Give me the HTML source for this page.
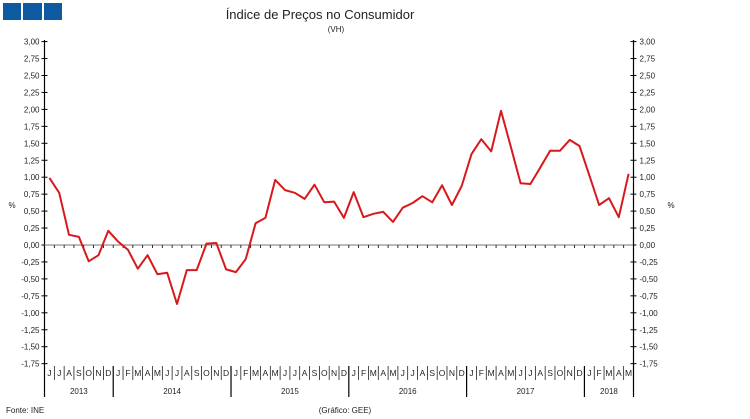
<!DOCTYPE html>
<html><head><meta charset="utf-8"><style>
html,body{margin:0;padding:0;background:#fff;}
svg{display:block;font-family:"Liberation Sans",Arial,sans-serif;}
</style></head><body>
<svg width="750" height="419" viewBox="0 0 750 419" xmlns="http://www.w3.org/2000/svg">
<rect x="3" y="3" width="18" height="17" fill="#0e5aa0"/>
<rect x="23" y="3" width="19" height="17" fill="#0e5aa0"/>
<rect x="44" y="3" width="18" height="17" fill="#0e5aa0"/>
<text x="320" y="19" font-size="13" text-anchor="middle" fill="#222">Índice de Preços no Consumidor</text>
<text x="336" y="32" font-size="8" text-anchor="middle" fill="#222">(VH)</text>
<text x="12" y="208" font-size="8" text-anchor="middle" fill="#222">%</text>
<text x="671" y="208" font-size="8" text-anchor="middle" fill="#222">%</text>
<text x="6" y="413" font-size="8" fill="#222">Fonte: INE</text>
<text x="345" y="413" font-size="8" text-anchor="middle" fill="#222">(Gráfico: GEE)</text>
<g id="ax" stroke="#000" stroke-width="1.2"></g>
<g id="lb" font-size="8" fill="#222"></g>
<line x1="44" y1="245" x2="633" y2="245" stroke="#777" stroke-width="1"/>
<g id="zt" stroke="#000" stroke-width="0.8"></g>
<polyline id="pl" fill="none" stroke="#d7191c" stroke-width="2" stroke-linejoin="round"/>
</svg>
<script>
var NS="http://www.w3.org/2000/svg";
function el(p,t,a,txt){var e=document.createElementNS(NS,t);for(var k in a)e.setAttribute(k,a[k]);if(txt!=null)e.textContent=txt;document.getElementById(p).appendChild(e);}
var L=44.5,R=633.5,y0=245,s=67.8;
el('ax','line',{x1:L,y1:40,x2:L,y2:397});
el('ax','line',{x1:R,y1:40,x2:R,y2:397});
for(var i=0;i<20;i++){var v=3-i*0.25,y=y0-v*s;var t=v.toFixed(2).replace('.',',');
el('ax','line',{x1:L-3,y1:y,x2:L+3,y2:y,'stroke-width':1});
el('ax','line',{x1:R-3,y1:y,x2:R+3,y2:y,'stroke-width':1});
el('lb','text',{x:L-5,y:y+3,'text-anchor':'end'},t);
el('lb','text',{x:R+6,y:y+3},t);}
var m="JJASONDJFMAMJJASONDJFMAMJJASONDJFMAMJJASONDJFMAMJJASONDJFMAM";
var dx=(R-L)/60;
for(var i=0;i<60;i++){var xc=L+dx*(i+0.5);
el('lb','text',{x:xc,y:376,'text-anchor':'middle','font-size':'8.5'},m[i]);
if(i>0){var yr=((i-7)%12==0);el('ax','line',{x1:L+dx*i,y1:366,x2:L+dx*i,y2:yr?397:380,'stroke-width':yr?1.2:0.7});}
el('zt','line',{x1:L+dx*i,y1:245,x2:L+dx*i,y2:248});}
var yrs=[["2013",0,7],["2014",7,19],["2015",19,31],["2016",31,43],["2017",43,55],["2018",55,60]];
yrs.forEach(function(a){el('lb','text',{x:L+dx*(a[1]+a[2])/2,y:394,'text-anchor':'middle'},a[0]);});
var d=[0.99,0.77,0.15,0.12,-0.24,-0.15,0.21,
0.05,-0.07,-0.35,-0.15,-0.43,-0.41,-0.87,-0.37,-0.37,0.02,0.03,-0.36,
-0.40,-0.21,0.32,0.40,0.96,0.81,0.77,0.68,0.89,0.63,0.64,0.40,
0.78,0.41,0.46,0.49,0.34,0.55,0.62,0.72,0.63,0.88,0.59,0.87,
1.34,1.56,1.38,1.98,1.45,0.91,0.90,1.14,1.39,1.39,1.55,1.46,
1.03,0.59,0.69,0.41,1.05];
var pts=d.map(function(v,i){return (L+dx*(i+0.5)).toFixed(1)+","+(y0-v*s).toFixed(1);}).join(" ");
document.getElementById('pl').setAttribute('points',pts);
</script>
</body></html>
